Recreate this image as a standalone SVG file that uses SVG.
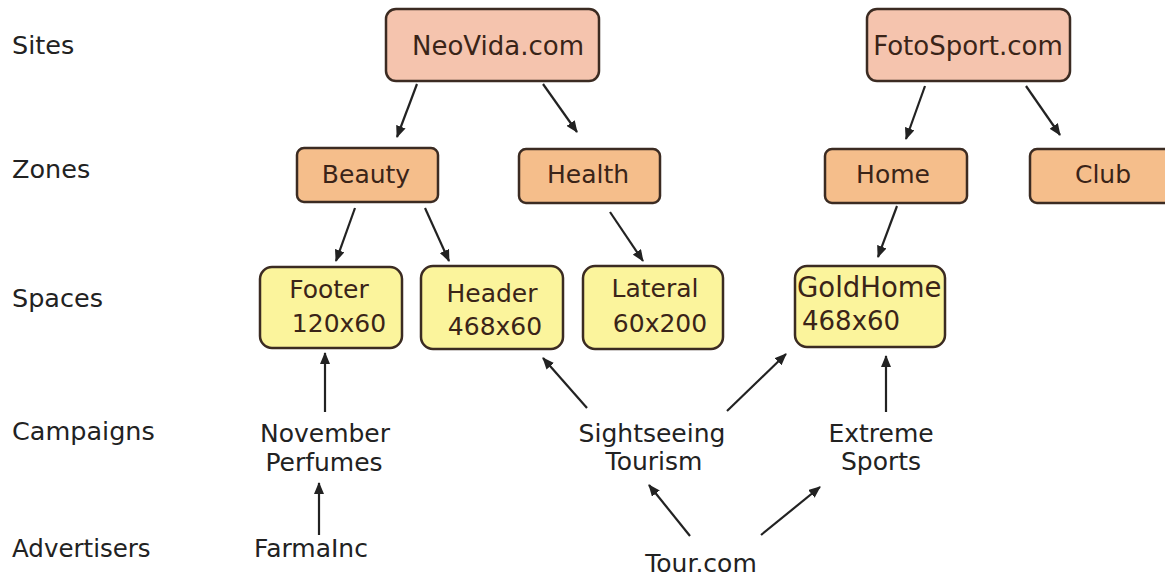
<svg xmlns="http://www.w3.org/2000/svg" width="1165" height="577" viewBox="0 0 1165 577">
<defs>
<marker id="ah" markerWidth="12" markerHeight="10" refX="11" refY="5" orient="auto" markerUnits="userSpaceOnUse">
<path d="M0,0 L12,5 L0,10 Z" fill="#222"/>
</marker>
<style>
.lbl{font-family:"DejaVu Sans",sans-serif;font-size:25.5px;fill:#222}
.txt{font-family:"DejaVu Sans",sans-serif;font-size:25px;fill:#222;text-anchor:middle}
.bt{font-family:"DejaVu Sans",sans-serif;font-size:25px;fill:#3a2418;text-anchor:middle}
.site{fill:#f5c4ae;stroke:#3b2b22;stroke-width:2.5}
.zone{fill:#f5be8b;stroke:#3b2b22;stroke-width:2.5}
.space{fill:#fbf49c;stroke:#3b2b22;stroke-width:2.5}
.c{stroke:#222;stroke-width:2.2;fill:none;marker-end:url(#ah)}
</style>
</defs>
<rect width="1165" height="577" fill="#fff"/>
<g id="labels">
<text class="lbl" x="12" y="54">Sites</text>
<text class="lbl" x="12" y="178">Zones</text>
<text class="lbl" x="12" y="307">Spaces</text>
<text class="lbl" x="12" y="440">Campaigns</text>
<text class="lbl" x="12" y="557" style="font-size:24.5px">Advertisers</text>
</g>
<g id="neovida"><rect class="site" x="386" y="9" width="213" height="72" rx="10"/><text class="bt" x="498" y="55" style="font-size:26px">NeoVida.com</text></g>
<g id="fotosport"><rect class="site" x="867" y="9" width="203" height="72" rx="10"/><text class="bt" x="968" y="55" style="font-size:26px">FotoSport.com</text></g>
<g id="beauty"><rect class="zone" x="297" y="148" width="141" height="54" rx="7"/><text class="bt" x="366" y="183">Beauty</text></g>
<g id="health"><rect class="zone" x="519" y="149" width="141" height="54" rx="7"/><text class="bt" x="588" y="183">Health</text></g>
<g id="home"><rect class="zone" x="825" y="149" width="142" height="54" rx="7"/><text class="bt" x="893" y="183">Home</text></g>
<g id="club"><rect class="zone" x="1030" y="149" width="145" height="54" rx="7"/><text class="bt" x="1103" y="183">Club</text></g>
<g id="footer"><rect class="space" x="260" y="267" width="142" height="81" rx="12"/><text class="bt" x="329" y="298">Footer</text><text class="bt" x="339" y="332">120x60</text></g>
<g id="header"><rect class="space" x="421" y="266" width="142" height="83" rx="12"/><text class="bt" x="492" y="302">Header</text><text class="bt" x="495" y="335">468x60</text></g>
<g id="lateral"><rect class="space" x="583" y="266" width="140" height="83" rx="12"/><text class="bt" x="655" y="297">Lateral</text><text class="bt" x="660" y="332">60x200</text></g>
<g id="goldhome"><rect class="space" x="795" y="266" width="150" height="81" rx="12"/><text class="bt" x="797" y="297" style="text-anchor:start;font-size:27.5px">GoldHome</text><text class="bt" x="802" y="330" style="text-anchor:start;font-size:26px">468x60</text></g>
<g id="november"><text class="txt" x="325" y="442">November</text><text class="txt" x="324" y="471">Perfumes</text></g>
<g id="sightseeing"><text class="txt" x="652" y="442">Sightseeing</text><text class="txt" x="654" y="470">Tourism</text></g>
<g id="extreme"><text class="txt" x="881" y="442">Extreme</text><text class="txt" x="881" y="470">Sports</text></g>
<g id="farmainc"><text class="txt" x="311" y="557">FarmaInc</text></g>
<g id="tourcom"><text class="txt" x="701" y="572">Tour.com</text></g>
<g id="connectors">
<line class="c" x1="417" y1="84" x2="397" y2="137"/>
<line class="c" x1="543" y1="84" x2="577" y2="132"/>
<line class="c" x1="925" y1="86" x2="906" y2="139"/>
<line class="c" x1="1026" y1="86" x2="1060" y2="135"/>
<line class="c" x1="355" y1="208" x2="336" y2="261"/>
<line class="c" x1="425" y1="208" x2="449" y2="261"/>
<line class="c" x1="610" y1="212" x2="643" y2="261"/>
<line class="c" x1="897" y1="206" x2="878" y2="257"/>
<line class="c" x1="325" y1="412" x2="325" y2="353"/>
<line class="c" x1="319" y1="535" x2="319" y2="483"/>
<line class="c" x1="587" y1="408" x2="543" y2="358"/>
<line class="c" x1="727" y1="411" x2="786" y2="354"/>
<line class="c" x1="886" y1="412" x2="886" y2="356"/>
<line class="c" x1="690" y1="536" x2="649" y2="485"/>
<line class="c" x1="761" y1="535" x2="820" y2="487"/>
</g>
</svg>
